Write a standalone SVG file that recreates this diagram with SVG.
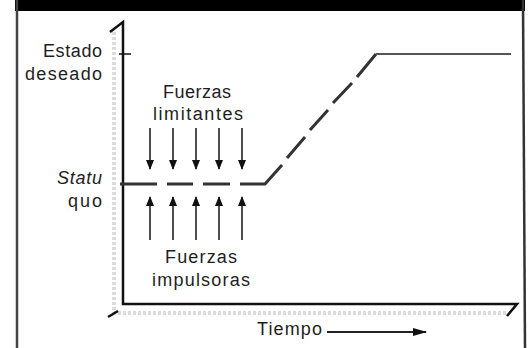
<svg xmlns="http://www.w3.org/2000/svg" width="532" height="348" viewBox="0 0 532 348">
<defs>
<style>
.t{font-family:"Liberation Sans",Arial,sans-serif;font-size:18px;fill:#1e1e1e}
.ax{stroke:#111;stroke-width:2.5;fill:none}
.bk{stroke:#dcdcdc;stroke-width:4;fill:none;stroke-dasharray:3 2}
.fa{stroke:#222;stroke-width:1.6;marker-end:url(#ah)}
.sq{stroke:#333;stroke-width:3;fill:none}
</style>
<marker id="ah" viewBox="0 0 10 8" refX="9" refY="4" markerWidth="10" markerHeight="8" markerUnits="userSpaceOnUse" orient="auto">
<path d="M0 0L10 4L0 8Z" fill="#111"/>
</marker>
<marker id="ah2" viewBox="0 0 14 8" refX="13" refY="4" markerWidth="14" markerHeight="8" markerUnits="userSpaceOnUse" orient="auto">
<path d="M0 0L14 4L0 8Z" fill="#111"/>
</marker>
</defs>
<rect x="0" y="0" width="532" height="348" fill="#fff"/>
<g id="frame">
<rect x="15" y="0" width="510" height="11" fill="#000"/>
<line x1="17" y1="0" x2="17" y2="348" stroke="#444" stroke-width="2.5"/>
<line x1="523" y1="0" x2="525" y2="348" stroke="#333" stroke-width="2.5"/>
</g>
<g id="axes">
<path class="bk" d="M114 32V313H507"/>
<path class="ax" d="M110 32L123 22V304H517L507 316"/>
<path class="ax" d="M108 317L118 311"/>
<line x1="119" y1="54" x2="131" y2="54" stroke="#111" stroke-width="1.5"/>
</g>
<g id="labels">
<text class="t" x="102" y="57" text-anchor="end" textLength="59">Estado</text>
<text class="t" x="102" y="80" text-anchor="end" textLength="77">deseado</text>
<text class="t" x="102" y="184" text-anchor="end" font-style="italic" textLength="45">Statu</text>
<text class="t" x="102" y="207" text-anchor="end" textLength="34">quo</text>
</g>
<g id="curve">
<path class="sq" d="M120 184H157M167 184H193M203 184H230M240 184H265L282 165M287 158L305 137M310 130L328 110M333 103L352 83M357 77L376 54"/>
<line x1="376" y1="54" x2="511" y2="54" stroke="#555" stroke-width="2"/>
</g>
<g id="limitantes">
<text class="t" x="197" y="98" text-anchor="middle" textLength="68">Fuerzas</text>
<text class="t" x="198" y="120" text-anchor="middle" textLength="90">limitantes</text>
</g>
<g id="impulsoras">
<text class="t" x="201" y="263" text-anchor="middle" textLength="72">Fuerzas</text>
<text class="t" x="201" y="286" text-anchor="middle" textLength="98">impulsoras</text>
</g>
<g id="connectors">
<line class="fa" x1="150" y1="128" x2="150" y2="169"/>
<line class="fa" x1="173" y1="128" x2="173" y2="169"/>
<line class="fa" x1="196" y1="128" x2="196" y2="169"/>
<line class="fa" x1="219" y1="128" x2="219" y2="169"/>
<line class="fa" x1="242" y1="128" x2="242" y2="169"/>
<line class="fa" x1="150" y1="240" x2="150" y2="197"/>
<line class="fa" x1="173" y1="240" x2="173" y2="197"/>
<line class="fa" x1="196" y1="240" x2="196" y2="197"/>
<line class="fa" x1="219" y1="240" x2="219" y2="197"/>
<line class="fa" x1="242" y1="240" x2="242" y2="197"/>
</g>
<g id="tiempo">
<text class="t" x="257" y="335" textLength="65">Tiempo</text>
<line x1="327" y1="332" x2="426" y2="332" stroke="#222" stroke-width="1.8" marker-end="url(#ah2)"/>
</g>
</svg>
